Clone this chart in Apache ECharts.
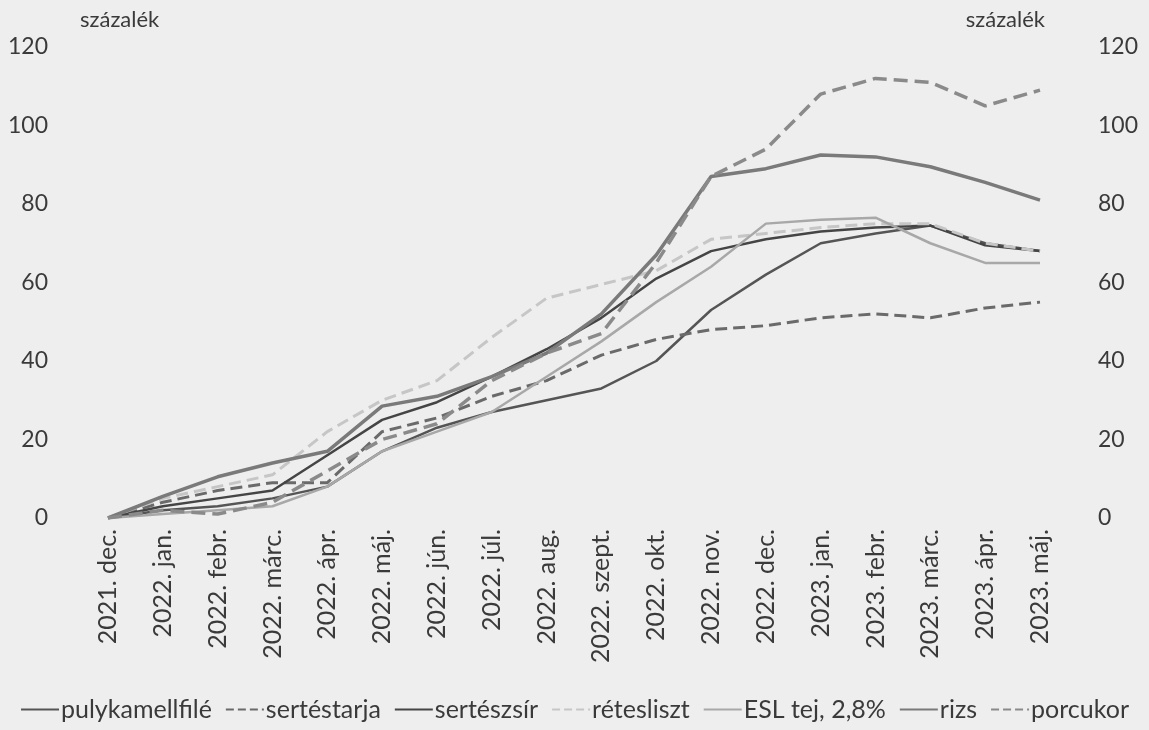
<!DOCTYPE html>
<html>
<head>
<meta charset="utf-8">
<script src="https://cdn.jsdelivr.net/npm/echarts@6/dist/echarts.min.js"></script>
<style>
  html, body { margin: 0; padding: 0; background: #eeeeee; }
  #chart { width: 1149px; height: 730px; }
</style>
</head>
<body>
<div id="chart"></div>
<script>
const months = ["2021. dec.","2022. jan.","2022. febr.","2022. márc.","2022. ápr.","2022. máj.","2022. jún.","2022. júl.","2022. aug.","2022. szept.","2022. okt.","2022. nov.","2022. dec.","2023. jan.","2023. febr.","2023. márc.","2023. ápr.","2023. máj."]
const yTicks = [0, 20, 40, 60, 80, 100, 120]

const pulykamellfile = [0, 2, 3, 5, 8, 17, 23, 27, 30, 33, 40, 53, 62, 70, 72.5, 74.5, 70, 68]
const sertestarja = [0, 4, 7, 9, 9, 22, 25.5, 31, 35, 41.5, 45.5, 48, 49, 51, 52, 51, 53.5, 55]
const serteszsir = [0, 3, 5, 7, 16, 25, 29.5, 36, 43, 51, 61, 68, 71, 73, 74, 74.5, 69.5, 68]
const retesliszt = [0, 5, 8, 11, 22, 30, 35, 46, 56, 59.5, 63, 71, 72.5, 74, 75, 75, 70, 68]
const esltej = [0, 1, 2, 3, 8, 17, 22, 27, 36, 45, 55, 64, 75, 76, 76.5, 70, 65, 65]
const rizs = [0, 5.5, 10.5, 14, 17, 28.5, 31, 36, 42, 52, 67, 87, 89, 92.5, 92, 89.5, 85.5, 81]
const porcukor = [0, 2, 1, 4, 12, 20, 24, 35, 42, 47, 65, 87, 94, 108, 112, 111, 105, 109]

const font = "Lato, 'Open Sans', sans-serif"
const textColor = "#3a3a3a"

const line = (name, data, color, type, width) => ({
  name: name,
  type: "line",
  data: data,
  symbol: "none",
  smooth: false,
  lineStyle: { color: color, type: type, width: width },
  itemStyle: { color: color },
  emphasis: { disabled: true }
})

const yAxisBase = (pos) => ({
  type: "value",
  position: pos,
  min: 0,
  max: 120,
  interval: 20,
  name: "százalék",
  nameLocation: "end",
  nameGap: 16,
  nameTextStyle: {
    fontFamily: font,
    fontSize: 22,
    color: textColor,
    align: pos === "left" ? "left" : "right",
    padding: pos === "left" ? [0, 0, 0, -28] : [0, -5, 0, 0]
  },
  axisLine: { show: false },
  axisTick: { show: false },
  splitLine: { show: false },
  axisLabel: {
    fontFamily: font,
    fontSize: 23,
    color: textColor,
    margin: pos === "left" ? 60 : 58,
    align: pos === "left" ? "right" : "left",
    formatter: (v) => yTicks.includes(v) ? String(v) : ""
  }
})

const chart = echarts.init(document.getElementById("chart"))
chart.setOption({
  backgroundColor: "#eeeeee",
  animation: false,
  grid: { left: 108, right: 109, top: 47, bottom: 212 },
  legend: {
    bottom: 3,
    left: "center",
    itemWidth: 38,
    itemHeight: 14,
    itemGap: 13,
    itemStyle: { opacity: 0 },
    textStyle: { fontFamily: font, fontSize: 25, color: textColor, padding: [0, 0, 0, -3] },
    data: ["pulykamellfilé", "sertéstarja", "sertészsír", "rétesliszt", "ESL tej, 2,8%", "rizs", "porcukor"]
  },
  xAxis: {
    type: "category",
    data: months,
    boundaryGap: false,
    axisLine: { show: false },
    axisTick: { show: false },
    axisLabel: {
      rotate: 90,
      interval: 0,
      margin: 11,
      fontFamily: font,
      fontSize: 25,
      color: textColor
    }
  },
  yAxis: [yAxisBase("left"), yAxisBase("right")],
  series: [
    line("pulykamellfilé", pulykamellfile, "#555555", "solid", 2.5),
    line("sertéstarja", sertestarja, "#6a6a6a", "dashed", 3),
    line("sertészsír", serteszsir, "#454545", "solid", 2.5),
    line("rétesliszt", retesliszt, "#c6c6c6", "dashed", 3),
    line("ESL tej, 2,8%", esltej, "#a8a8a8", "solid", 2.5),
    line("rizs", rizs, "#7a7a7a", "solid", 3.5),
    line("porcukor", porcukor, "#8a8a8a", "dashed", 3.5)
  ]
})
</script>
</body>
</html>
